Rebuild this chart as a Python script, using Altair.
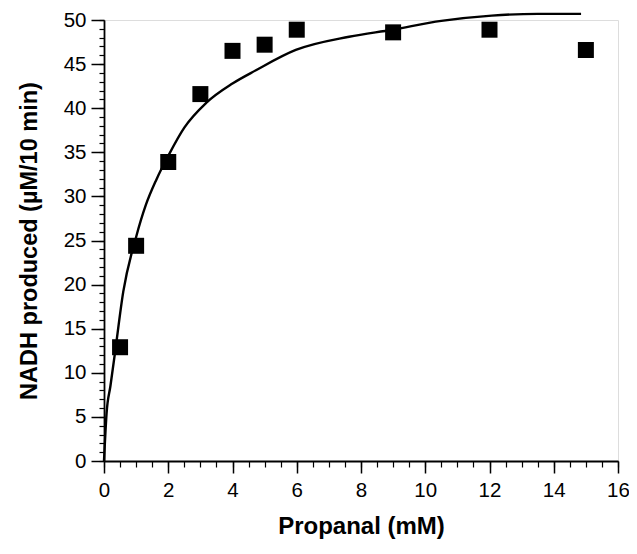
import altair as alt
import pandas as pd

# measured points
conc = [0.5, 1, 2, 3, 4, 5, 6, 9, 12, 15]
nadh = [12.9, 24.4, 33.9, 41.6, 46.5, 47.2, 48.9, 48.6, 48.9, 46.6]

# fitted curve
curve_x = [0, 0.08, 0.2, 0.34, 0.6, 1.0, 1.3, 1.63, 2.0, 2.5, 3.18, 4.0, 4.73,
           5.97, 7.63, 8.97, 10.5, 12.07, 13.5, 14.85]
curve_y = [0, 5.4, 8.5, 12.2, 19.2, 25.4, 29.0, 31.9, 34.6, 37.8, 40.6, 42.8,
           44.3, 46.6, 48.1, 48.9, 49.9, 50.5, 50.7, 50.7]

x_major = [0, 2, 4, 6, 8, 10, 12, 14, 16]
y_major = [0, 5, 10, 15, 20, 25, 30, 35, 40, 45, 50]
x_minor = [i * 0.5 for i in range(33)]
y_minor = list(range(51))

pts = pd.DataFrame({"x": conc, "y": nadh})
crv = pd.DataFrame({"x": curve_x, "y": curve_y})

FONT = "Liberation Sans"
xs = alt.Scale(domain=[0, 16], nice=False, zero=False)
ys = alt.Scale(domain=[0, 50], nice=False, zero=False)

line = alt.Chart(crv).mark_line(color="black", strokeWidth=2.4, clip=False,
                                interpolate="monotone").encode(
    x=alt.X("x:Q", scale=xs, axis=alt.Axis(
        orient="bottom", values=x_minor, labels=False, title=None, domain=False,
        grid=False, tickSize=6, tickColor="black", tickWidth=1.2)),
    y=alt.Y("y:Q", scale=ys, axis=alt.Axis(
        orient="left", values=y_minor, labels=False, title=None, domain=False,
        grid=False, tickSize=5, tickColor="black", tickWidth=1.2)),
    order="x:Q",
)

points = alt.Chart(pts).mark_point(shape="square", filled=True, color="black",
                                   size=256, opacity=1).encode(
    x=alt.X("x:Q", scale=xs, axis=alt.Axis(
        orient="bottom", values=x_major, title="Propanal (mM)", grid=False,
        tickSize=12, tickWidth=1.5, tickColor="black", domainColor="black",
        domainWidth=1.8, labelFont=FONT, labelFontSize=20.5, labelColor="black",
        labelPadding=7, titleFont=FONT, titleFontSize=24, titleFontWeight="bold",
        titleColor="black", titlePadding=14, labelFlush=False)),
    y=alt.Y("y:Q", scale=ys, axis=alt.Axis(
        orient="left", values=y_major, title="NADH produced (µM/10 min)", grid=False,
        tickSize=13, tickWidth=1.5, tickColor="black", domainColor="black",
        domainWidth=1.8, labelFont=FONT, labelFontSize=20.5, labelColor="black",
        labelPadding=5, titleFont=FONT, titleFontSize=23.5, titleFontWeight="bold",
        titleColor="black", titlePadding=22, labelFlush=False)),
)

chart = alt.layer(line, points).resolve_axis(x="independent", y="independent").properties(
    width=514, height=441,
    autosize=alt.AutoSizeParams(type="none"),
    padding={"left": 96, "top": 12, "right": 11, "bottom": 85},
).configure_view(stroke=None).configure(background="white")

chart.save("out.html", embed_options={"renderer": "svg", "actions": False})
